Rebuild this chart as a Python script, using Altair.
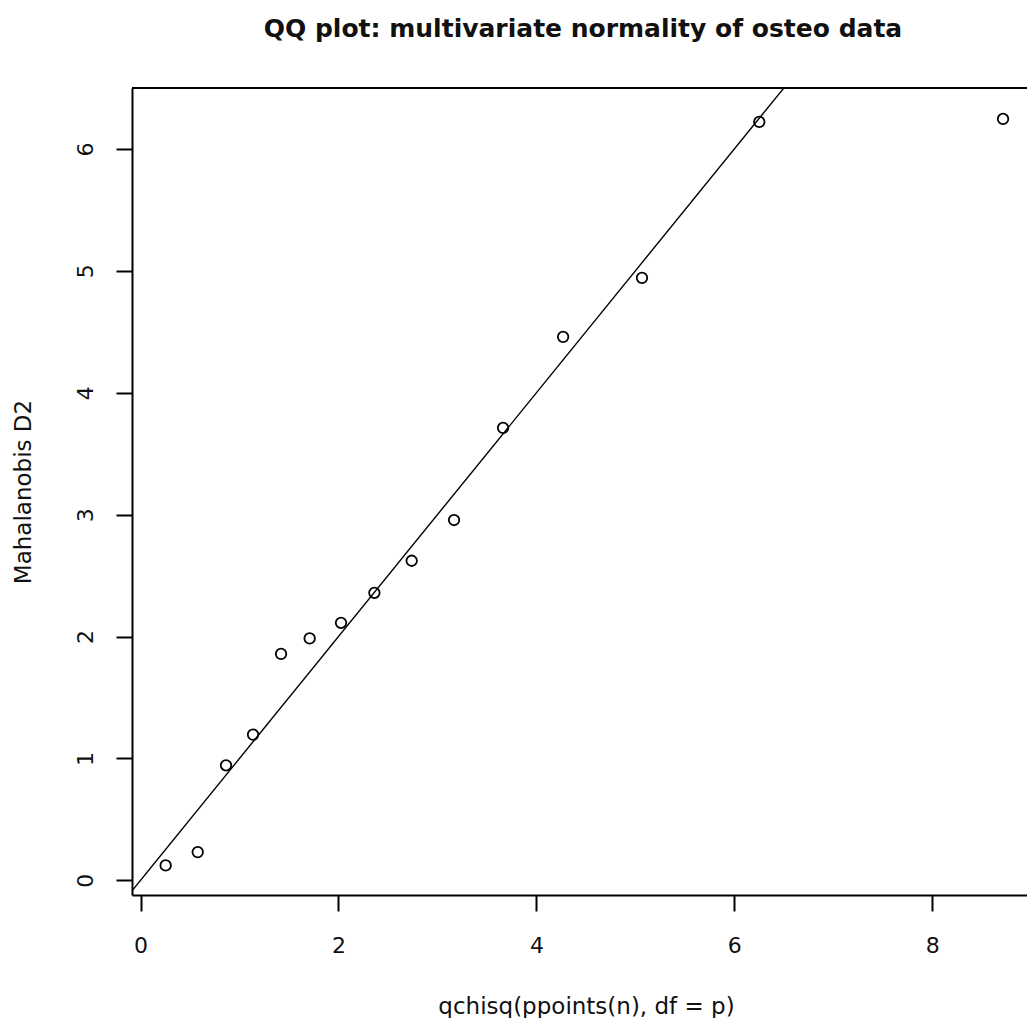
import altair as alt
import pandas as pd

# Values
qchisq_x = [0.254, 0.578, 0.864, 1.137, 1.420, 1.709, 2.026, 2.363, 2.740,
            3.168, 3.663, 4.270, 5.067, 6.252, 8.715]
mahal_d2 = [0.123, 0.232, 0.944, 1.196, 1.858, 1.985, 2.113, 2.359, 2.622,
            2.956, 3.712, 4.459, 4.943, 6.222, 6.246]
x_ticks = [0, 2, 4, 6, 8]
y_ticks = [0, 1, 2, 3, 4, 5, 6]
x_domain = [-0.086, 8.957]
y_domain = [-0.12, 6.50]
abline_intercept = 0.0
abline_slope = 1.0

W, H = 895, 807
FONT = "DejaVu Sans"

pts = pd.DataFrame({"x": qchisq_x, "y": mahal_d2})
line_df = pd.DataFrame({"x": x_domain})
line_df["y"] = abline_intercept + abline_slope * line_df["x"]

x_enc = alt.X(
    "x:Q",
    scale=alt.Scale(domain=x_domain, nice=False, zero=False),
    axis=alt.Axis(
        values=x_ticks, format="d", grid=False,
        title="qchisq(ppoints(n), df = p)",
        domain=True, domainColor="black", domainWidth=2,
        ticks=True, tickSize=16, tickWidth=2, tickColor="black",
        labelFont=FONT, labelFontSize=22, labelColor="#111111",
        labelAngle=0, labelAlign="center", labelBaseline="alphabetic",
        labelPadding=41, labelFlush=False, labelOverlap=False,
        titleFont=FONT, titleFontSize=23, titleFontWeight="normal",
        titleColor="#111111", titleX=454, titleY=118,
        titleAlign="center", titleBaseline="alphabetic",
    ),
)
y_enc = alt.Y(
    "y:Q",
    scale=alt.Scale(domain=y_domain, nice=False, zero=False),
    axis=alt.Axis(
        values=y_ticks, format="d", grid=False,
        title="Mahalanobis D2",
        domain=True, domainColor="black", domainWidth=2,
        ticks=True, tickSize=16, tickWidth=2, tickColor="black",
        labelFont=FONT, labelFontSize=22, labelColor="#111111",
        labelAngle=270, labelAlign="center", labelBaseline="alphabetic",
        labelPadding=24, labelFlush=False, labelOverlap=False,
        titleFont=FONT, titleFontSize=23, titleFontWeight="normal",
        titleColor="#111111", titleAngle=270, titleX=-102, titleY=403.5,
        titleAlign="center", titleBaseline="alphabetic",
    ),
)

points = alt.Chart(pts).mark_point(
    shape="circle", filled=False, size=110, strokeWidth=1.8,
    color="black", opacity=1,
).encode(x=x_enc, y=y_enc)

line = alt.Chart(line_df).mark_line(
    color="black", strokeWidth=1.4, clip=True
).encode(x=x_enc, y=y_enc)

top_border = alt.Chart(pd.DataFrame({"a": [0]})).mark_rule(
    color="black", strokeWidth=2
).encode(x=alt.value(0), x2=alt.value(W), y=alt.value(0))

chart = alt.layer(line, points, top_border).properties(
    width=W, height=H,
    padding={"left": 124, "top": 80, "right": 0, "bottom": 123},
    autosize=alt.AutoSizeParams(type="none"),
    title=alt.TitleParams(
        text="QQ plot: multivariate normality of osteo data",
        font=FONT, fontSize=25, fontWeight="bold", color="#111111",
        anchor="middle", frame="group", baseline="alphabetic",
        offset=25, dx=3.5,
    ),
).configure_view(stroke=None).configure(background="white")

chart.save("out.html", embed_options={"renderer": "svg", "actions": False})
